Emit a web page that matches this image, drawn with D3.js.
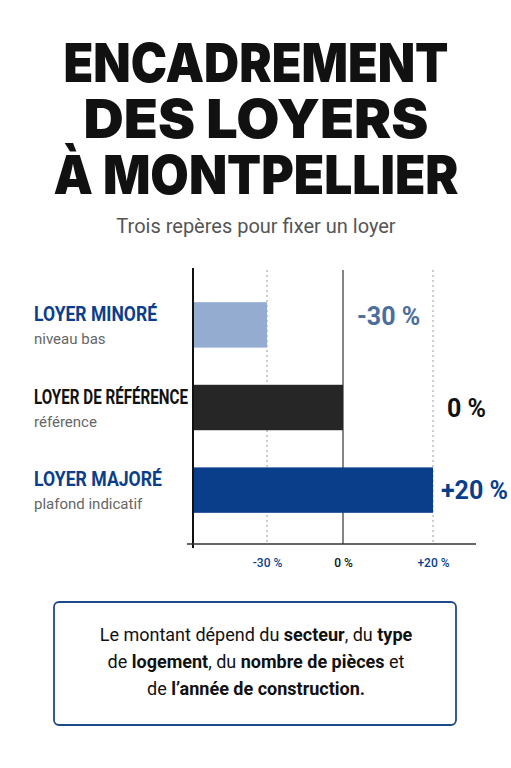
<!DOCTYPE html>
<html><head><meta charset="utf-8">
<script src="https://cdn.jsdelivr.net/npm/d3@7"></script>
<style>body{margin:0;background:#fff}svg{display:block}</style>
</head><body>
<script>
const categories = ["LOYER MINORÉ","LOYER DE RÉFÉRENCE","LOYER MAJORÉ"];
const subtitles = ["niveau bas","référence","plafond indicatif"];
const values = [-30, 0, 20];
const valueLabels = ["-30 %","0 %","+20 %"];
const tickValues = [-30, 0, 20];
const tickLabels = ["-30 %","0 %","+20 %"];
const colors = ["#93acd0","#262626","#0b3e8a"];
const labelColors = ["#0b3e8a","#111","#0b3e8a"];
const valueColors = ["#4a6e9e","#111","#0b3e8a"];

const W=511,H=768;
const svg=d3.select("body").append("svg").attr("width",W).attr("height",H);
const ttl=["ENCADREMENT","DES LOYERS","À MONTPELLIER"];
svg.selectAll(".t").data(ttl).join("text").attr("x",256).attr("y",(d,i)=>82+i*56)
 .attr("text-anchor","middle").attr("font-family","Inter, Roboto, sans-serif").attr("font-weight",900)
 .attr("font-size",54).attr("fill","#111").attr("textLength",(d,i)=>[385,345,405][i]).attr("lengthAdjust","spacingAndGlyphs").text(d=>d);
svg.append("text").attr("x",256).attr("y",233).attr("text-anchor","middle").attr("font-family","Roboto, sans-serif")
 .attr("font-size",20).attr("fill","#555").text("Trois repères pour fixer un loyer");

const x=d3.scaleLinear().domain([-34.9,-30,0,20,30]).range([193,267,343,433,476]);
const y=d3.scaleBand().domain(categories).range([265,550]).paddingInner(0.45).paddingOuter(0.45);
const x0=x.range()[0];
tickValues.forEach(v=>{
 svg.append("line").attr("x1",x(v)).attr("x2",x(v)).attr("y1",270).attr("y2",544)
  .attr("stroke",v===0?"#333":"#999").attr("stroke-width",v===0?1.2:1).attr("stroke-dasharray",v===0?null:"2,3");
});
svg.selectAll(".bar").data(values).join("rect").attr("x",x0).attr("y",(d,i)=>y(categories[i]))
 .attr("width",d=>x(d)-x0).attr("height",y.bandwidth()).attr("fill",(d,i)=>colors[i]);
svg.append("line").attr("x1",193).attr("x2",193).attr("y1",268).attr("y2",548).attr("stroke","#111").attr("stroke-width",2);
const ax=svg.append("g").attr("transform","translate(0,544)").call(d3.axisBottom(x).tickValues(tickValues).tickFormat((d,i)=>tickLabels[i]).tickSize(0).tickPadding(14));
ax.select(".domain").attr("stroke","#333").attr("stroke-width",1.5).attr("d","M187,0H476");
ax.selectAll("text").attr("font-family","Roboto, sans-serif").attr("font-size",12).attr("font-weight",500).attr("fill",(d,i)=>["#0b3e8a","#111","#0b3e8a"][i]);
const lw=[123,154,128];
categories.forEach((c,i)=>{
 const yc=y(c)+y.bandwidth()/2;
 svg.append("text").attr("x",34).attr("y",yc-4).attr("font-family","Roboto, sans-serif")
  .attr("font-weight",700).attr("font-size",21).attr("fill",labelColors[i]).attr("textLength",lw[i]).attr("lengthAdjust","spacingAndGlyphs").text(c);
 svg.append("text").attr("x",34).attr("y",yc+19).attr("font-family","Roboto, sans-serif").attr("font-size",15).attr("fill","#666").text(subtitles[i]);
 const vx=[357,447,441][i];
 svg.append("text").attr("x",vx).attr("y",yc+[0,9,9][i]).attr("font-family","Roboto, sans-serif").attr("font-weight",700)
  .attr("font-size",25).attr("fill",valueColors[i]).text(valueLabels[i]);
});
svg.append("rect").attr("x",54).attr("y",602).attr("width",402).attr("height",123).attr("rx",5).attr("fill","#fff").attr("stroke","#1f4a8a").attr("stroke-width",1.8);
const lines=[[["Le montant dépend du ",0],["secteur",1],[", du ",0],["type",1]],[["de ",0],["logement",1],[", du ",0],["nombre de pièces",1],[" et",0]],[["de ",0],["l’année de construction.",1]]];
lines.forEach((l,i)=>{
 const t=svg.append("text").attr("x",256).attr("y",641+i*27).attr("text-anchor","middle").attr("font-family","Roboto, sans-serif").attr("font-size",18).attr("fill","#111");
 l.forEach(([s,b])=>t.append("tspan").attr("font-weight",b?700:400).text(s));
});
</script></body></html>
